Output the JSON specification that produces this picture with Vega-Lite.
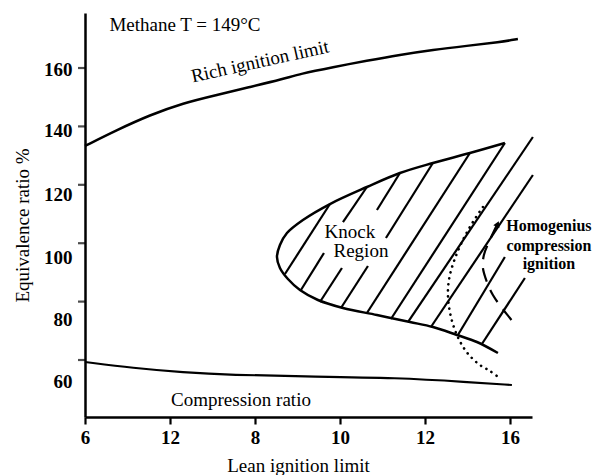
{
  "$schema": "https://vega.github.io/schema/vega-lite/v6.json",
  "width": 447,
  "height": 404,
  "autosize": "none",
  "padding": {"left": 85, "top": 13, "right": 66, "bottom": 58},
  "background": "white",
  "config": {
    "view": {"stroke": null},
    "font": "Liberation Serif",
    "axis": {"grid": false, "domainColor": "black", "tickColor": "black", "labelColor": "black", "titleColor": "black", "labelFont": "Liberation Serif", "titleFont": "Liberation Serif"},
    "text": {"font": "Liberation Serif", "color": "black"}
  },
  "datasets": {
    "rich": [
      {"x": 6, "y": 133.3}, {"x": 6.753, "y": 138.8}, {"x": 7.529, "y": 143.9}, {"x": 8.306, "y": 148.0},
      {"x": 9.106, "y": 150.8}, {"x": 9.882, "y": 153.5}, {"x": 10.659, "y": 156.2}, {"x": 11.059, "y": 158.0},
      {"x": 11.835, "y": 160.3}, {"x": 12.635, "y": 162.5}, {"x": 13.412, "y": 164.5}, {"x": 14.188, "y": 166.2},
      {"x": 14.988, "y": 167.6}, {"x": 15.765, "y": 168.9}, {"x": 16.188, "y": 169.9}
    ],
    "comp": [
      {"x": 6, "y": 59.32}, {"x": 7.129, "y": 57.26}, {"x": 8.306, "y": 55.75}, {"x": 9.482, "y": 54.86},
      {"x": 11.059, "y": 54.40}, {"x": 13.412, "y": 53.9}, {"x": 14.988, "y": 52.47}, {"x": 16.047, "y": 51.44}
    ],
    "knock": [
      {"i": 0, "x": 15.882, "y": 134.32}, {"i": 1, "x": 15.059, "y": 130.89}, {"i": 2, "x": 14.188, "y": 127.47},
      {"i": 3, "x": 13.412, "y": 124.04}, {"i": 4, "x": 12.635, "y": 119.25}, {"i": 5, "x": 11.765, "y": 113.42},
      {"i": 6, "x": 11.129, "y": 107.95}, {"i": 7, "x": 10.753, "y": 103.49}, {"i": 8, "x": 10.588, "y": 99.38},
      {"i": 9, "x": 10.518, "y": 95.27}, {"i": 10, "x": 10.588, "y": 91.51}, {"i": 11, "x": 10.776, "y": 87.74},
      {"i": 12, "x": 11.059, "y": 83.97}, {"i": 13, "x": 11.482, "y": 80.55}, {"i": 14, "x": 12.071, "y": 77.81},
      {"i": 15, "x": 12.871, "y": 75.41}, {"i": 16, "x": 13.647, "y": 73.01}, {"i": 17, "x": 14.188, "y": 71.30},
      {"i": 18, "x": 14.753, "y": 68.56}, {"i": 19, "x": 15.224, "y": 66.16}, {"i": 20, "x": 15.718, "y": 62.40}
    ],
    "hatch": [
      {"id": "h1", "i": 0, "x": 10.706, "y": 89.45}, {"id": "h1", "i": 1, "x": 11.765, "y": 113.42},
      {"id": "h2a", "i": 0, "x": 11.082, "y": 83.97}, {"id": "h2a", "i": 1, "x": 11.624, "y": 96.64},
      {"id": "h2b", "i": 0, "x": 12.071, "y": 107.26}, {"id": "h2b", "i": 1, "x": 12.635, "y": 119.25},
      {"id": "h3a", "i": 0, "x": 11.529, "y": 79.86}, {"id": "h3a", "i": 1, "x": 12.047, "y": 91.51},
      {"id": "h3b", "i": 0, "x": 12.871, "y": 111.37}, {"id": "h3b", "i": 1, "x": 13.412, "y": 124.04},
      {"id": "h4a", "i": 0, "x": 12.024, "y": 77.81}, {"id": "h4a", "i": 1, "x": 12.659, "y": 92.19},
      {"id": "h4b", "i": 0, "x": 13.082, "y": 101.78}, {"id": "h4b", "i": 1, "x": 14.188, "y": 127.47},
      {"id": "h5", "i": 0, "x": 12.635, "y": 76.10}, {"id": "h5", "i": 1, "x": 15.059, "y": 130.89},
      {"id": "h6", "i": 0, "x": 13.200, "y": 74.04}, {"id": "h6", "i": 1, "x": 15.882, "y": 134.32},
      {"id": "h7", "i": 0, "x": 13.600, "y": 73.01}, {"id": "h7", "i": 1, "x": 16.541, "y": 136.37},
      {"id": "h8", "i": 0, "x": 14.141, "y": 71.30}, {"id": "h8", "i": 1, "x": 16.541, "y": 123.36},
      {"id": "h9", "i": 0, "x": 14.776, "y": 68.56}, {"id": "h9", "i": 1, "x": 15.882, "y": 95.27},
      {"id": "h10", "i": 0, "x": 15.341, "y": 65.48}, {"id": "h10", "i": 1, "x": 16.353, "y": 88.08}
    ],
    "dotted": [
      {"i": 0, "x": 15.365, "y": 112.40}, {"i": 1, "x": 15.129, "y": 107.26}, {"i": 2, "x": 14.918, "y": 101.78},
      {"i": 3, "x": 14.729, "y": 95.62}, {"i": 4, "x": 14.588, "y": 89.11}, {"i": 5, "x": 14.541, "y": 83.29},
      {"i": 6, "x": 14.588, "y": 76.44}, {"i": 7, "x": 14.706, "y": 70.27}, {"i": 8, "x": 14.871, "y": 65.14},
      {"i": 9, "x": 15.059, "y": 61.37}, {"i": 10, "x": 15.294, "y": 58.29}, {"i": 11, "x": 15.529, "y": 56.23},
      {"i": 12, "x": 15.694, "y": 54.52}
    ],
    "dashed": [
      {"i": 0, "x": 15.694, "y": 106.23}, {"i": 1, "x": 15.529, "y": 101.10}, {"i": 2, "x": 15.388, "y": 95.96},
      {"i": 3, "x": 15.365, "y": 91.51}, {"i": 4, "x": 15.459, "y": 86.71}, {"i": 5, "x": 15.600, "y": 82.26},
      {"i": 6, "x": 15.812, "y": 77.81}, {"i": 7, "x": 16.000, "y": 74.38}, {"i": 8, "x": 16.165, "y": 71.30}
    ],
    "arrow": [{"x": 15.71, "y": 106.6}],
    "yticks": [
      {"x": 6, "y": 160}, {"x": 6, "y": 140}, {"x": 6, "y": 120}, {"x": 6, "y": 100}, {"x": 6, "y": 80}, {"x": 6, "y": 60}
    ],
    "labels": [
      {"x": 8.353, "y": 174.73, "label": "Methane T = 149°C"},
      {"x": 12.235, "y": 103.84, "label": "Knock"},
      {"x": 12.494, "y": 97.33, "label": "Region"},
      {"x": 9.671, "y": 46.30, "label": "Compression ratio"}
    ],
    "richlabel": [{"x": 10.118, "y": 162.23, "label": "Rich ignition limit"}],
    "hcilabels": [
      {"x": 16.918, "y": 105.89, "label": "Homogenius"},
      {"x": 16.918, "y": 99.04, "label": "compression"},
      {"x": 16.918, "y": 92.88, "label": "ignition"}
    ]
  },
  "encoding": {
    "x": {
      "field": "x", "type": "quantitative",
      "scale": {"domain": [6, 16.52], "nice": false, "zero": false},
      "axis": {
        "values": [6, 8, 10, 12, 14, 16],
        "labelExpr": "datum.value == 6 ? '6' : datum.value == 8 ? '12' : datum.value == 10 ? '8' : datum.value == 12 ? '10' : datum.value == 14 ? '12' : '16'",
        "labelFlush": false, "labelOverlap": false,
        "labelFont": "Liberation Serif", "labelColor": "black",
        "labelFontSize": 19, "labelFontWeight": "bold", "labelPadding": 4,
        "tickSize": 7, "tickWidth": 2.2, "tickColor": "black", "domainWidth": 2.5, "domainColor": "black",
        "title": "Lean ignition limit", "titleFont": "Liberation Serif", "titleColor": "black",
        "titleFontSize": 19, "titleFontWeight": "normal",
        "titleX": 213, "titleY": 48, "titleBaseline": "middle"
      }
    },
    "y": {
      "field": "y", "type": "quantitative",
      "scale": {"domain": [40.48, 178.84], "nice": false, "zero": false},
      "axis": {
        "values": [159.32, 138.77, 116.51, 95.27, 74.04, 52.47],
        "labelExpr": "datum.value > 150 ? '160' : datum.value > 130 ? '140' : datum.value > 110 ? '120' : datum.value > 90 ? '100' : datum.value > 70 ? '80' : '60'",
        "labelFlush": false, "labelOverlap": false,
        "labelFont": "Liberation Serif", "labelColor": "black",
        "labelFontSize": 19, "labelFontWeight": "bold", "labelPadding": 13,
        "ticks": false, "tickSize": 0, "domainWidth": 2.5, "domainColor": "black",
        "title": "Equivalence ratio %", "titleFont": "Liberation Serif", "titleColor": "black",
        "titleFontSize": 19, "titleFontWeight": "normal",
        "titleX": -63, "titleY": 212, "titleBaseline": "middle", "titleAngle": -90
      }
    }
  },
  "layer": [
    {"data": {"name": "rich"}, "mark": {"type": "line", "color": "black", "strokeWidth": 2.5, "interpolate": "basis"}},
    {"data": {"name": "comp"}, "mark": {"type": "line", "color": "black", "strokeWidth": 2.2, "interpolate": "basis"}},
    {"data": {"name": "knock"}, "mark": {"type": "line", "color": "black", "strokeWidth": 2.5, "interpolate": "catmull-rom"}, "encoding": {"order": {"field": "i", "type": "quantitative"}}},
    {"data": {"name": "hatch"}, "mark": {"type": "line", "color": "black", "strokeWidth": 2.2}, "encoding": {"detail": {"field": "id"}, "order": {"field": "i", "type": "quantitative"}}},
    {"data": {"name": "dotted"}, "mark": {"type": "line", "color": "black", "strokeWidth": 2.6, "strokeDash": [0.1, 6], "strokeCap": "round", "interpolate": "catmull-rom"}, "encoding": {"order": {"field": "i", "type": "quantitative"}}},
    {"data": {"name": "dashed"}, "mark": {"type": "line", "color": "black", "strokeWidth": 2.2, "strokeDash": [14, 9], "interpolate": "catmull-rom"}, "encoding": {"order": {"field": "i", "type": "quantitative"}}},
    {"data": {"name": "arrow"}, "mark": {"type": "point", "shape": "triangle-up", "filled": true, "color": "black", "size": 45, "angle": 25, "opacity": 1}},
    {"data": {"name": "yticks"}, "mark": {"type": "tick", "orient": "horizontal", "color": "black", "size": 7, "thickness": 2.2, "xOffset": -3.5}},
    {"data": {"name": "labels"}, "mark": {"type": "text", "font": "Liberation Serif", "color": "black", "fontSize": 19, "align": "center", "baseline": "middle"}, "encoding": {"text": {"field": "label"}}},
    {"data": {"name": "richlabel"}, "mark": {"type": "text", "font": "Liberation Serif", "color": "black", "fontSize": 19, "align": "center", "baseline": "middle", "angle": -12.5}, "encoding": {"text": {"field": "label"}}},
    {"data": {"name": "hcilabels"}, "mark": {"type": "text", "font": "Liberation Serif", "color": "black", "fontSize": 16, "fontWeight": "bold", "align": "center", "baseline": "middle"}, "encoding": {"text": {"field": "label"}}}
  ]
}
